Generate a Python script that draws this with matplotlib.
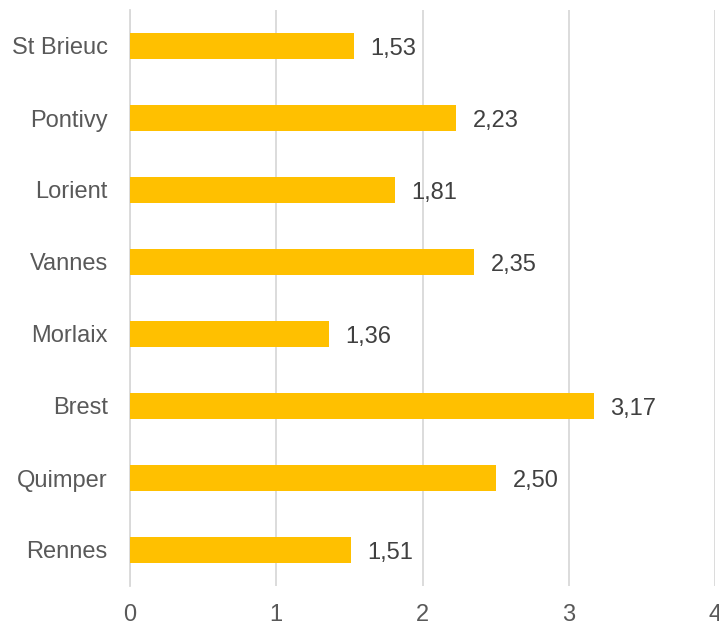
import matplotlib.pyplot as plt

plt.rcParams['font.family'] = ['Liberation Sans', 'DejaVu Sans']

villes = ['St Brieuc', 'Pontivy', 'Lorient', 'Vannes', 'Morlaix', 'Brest', 'Quimper', 'Rennes']
valeurs = [1.53, 2.23, 1.81, 2.35, 1.36, 3.17, 2.50, 1.51]

fig = plt.figure(figsize=(7.19, 6.23), dpi=100)
ax = fig.add_axes([130 / 719, 1 - 586 / 623, 585 / 719, 576 / 623])

pos = list(range(len(villes)))[::-1]
ax.barh(pos, valeurs, height=0.36, color='#FFC000', zorder=3)

for p, v in zip(pos, valeurs):
    ax.text(v + 0.115, p, f'{v:.2f}'.replace('.', ','), va='center_baseline', ha='left',
            fontsize=17, color='#404040')

ax.set_xlim(0, 4)
ax.set_ylim(-0.5, 7.5)
ax.set_xticks([0, 1, 2, 3, 4])
ax.set_yticks(pos)
ax.set_yticklabels(villes, va='center_baseline')
ax.tick_params(axis='both', length=0, labelsize=17, labelcolor='#595959')
ax.tick_params(axis='x', pad=13)
ax.tick_params(axis='y', pad=16)
ax.grid(True, axis='x', color='#D9D9D9', linewidth=1.3, zorder=0)
for s in ['top', 'right', 'bottom']:
    ax.spines[s].set_visible(False)
ax.spines['left'].set_color('#D9D9D9')
ax.spines['left'].set_linewidth(1.3)

fig.savefig('out.png', dpi=100)
